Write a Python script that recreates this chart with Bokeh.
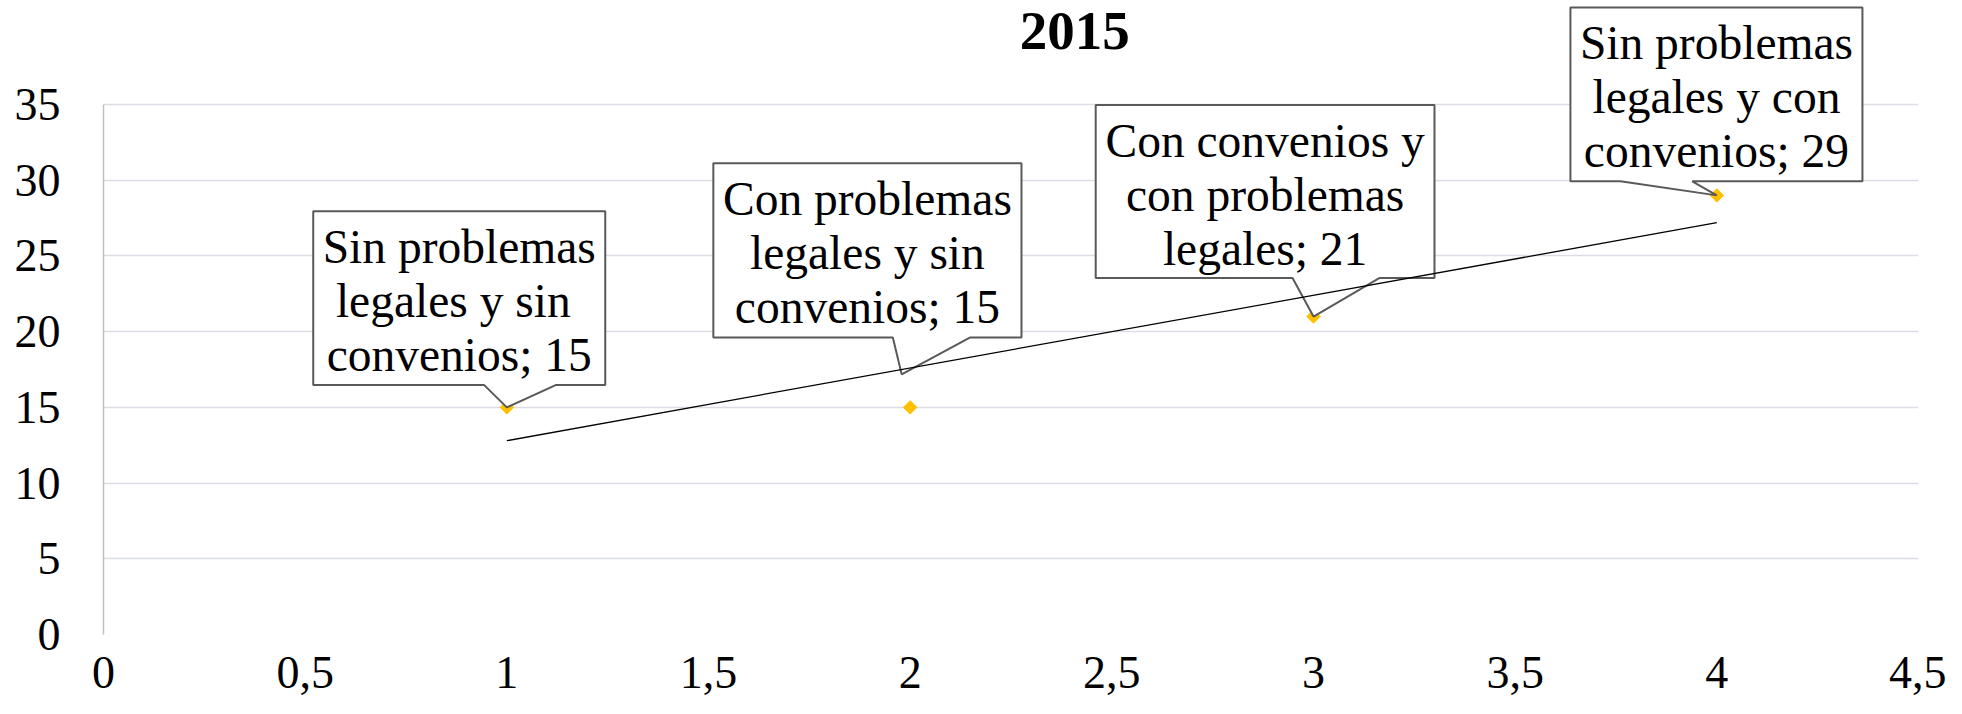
import numpy as np
from bokeh.plotting import figure
from bokeh.models import Range1d, FixedTicker, Label, PolyAnnotation
from bokeh.embed import file_html
from bokeh.resources import INLINE

# ---------------- data ----------------
title_text = "2015"
x_values = [1, 2, 3, 4]
y_values = [15, 15, 21, 29]
point_labels = [
    ["Sin problemas", "legales  y sin", "convenios; 15"],
    ["Con problemas", "legales y sin", "convenios; 15"],
    ["Con convenios y", "con problemas", "legales; 21"],
    ["Sin problemas", "legales y con", "convenios; 29"],
]
x_ticks = [0, 0.5, 1, 1.5, 2, 2.5, 3, 3.5, 4, 4.5]
x_tick_labels = ["0", "0,5", "1", "1,5", "2", "2,5", "3", "3,5", "4", "4,5"]
y_ticks = [0, 5, 10, 15, 20, 25, 30, 35]
y_tick_labels = ["0", "5", "10", "15", "20", "25", "30", "35"]

# ------------- callout layout (positions only, data units) -------------
# box: left, right, top, bottom ; base: pointer base left/right x ; tip offset from point
callouts = [
    dict(box=(0.520, 1.244, 27.96, 16.47), base=(0.944, 1.121), tip=(0.0, 0.0)),
    dict(box=(1.512, 2.276, 31.12, 19.62), base=(1.957, 2.149), tip=(-0.021, 2.18)),
    dict(box=(2.460, 3.300, 34.97, 23.54), base=(2.948, 3.163), tip=(0.0, 0.0)),
    dict(box=(3.637, 4.361, 41.40, 29.93), base=(3.761, 3.939), tip=(0.0, 0.0)),
]

FONT = "Liberation Serif"
LABEL_SIZE = "47.5px"
TICK_SIZE = "46px"

# the frame extends above the 35 line so that the title and top callout fit inside it
p = figure(
    width=1946, height=706,
    x_range=Range1d(0, 4.5), y_range=Range1d(0, 41.87),
    output_backend="svg", toolbar_location=None,
    min_border_left=103, min_border_right=28, min_border_top=0, min_border_bottom=72,
)
p.outline_line_color = None
p.background_fill_color = "white"
p.border_fill_color = "white"

p.xgrid.visible = False
p.ygrid.grid_line_color = "#DADEE4"
p.ygrid.grid_line_width = 1.3

xa = p.xaxis[0]
xa.ticker = FixedTicker(ticks=x_ticks)
xa.major_label_overrides = {t: l for t, l in zip(x_ticks, x_tick_labels)}
xa.axis_line_color = None
xa.major_tick_line_color = None
xa.minor_tick_line_color = None
xa.major_tick_out = 0
xa.major_label_standoff = 22
xa.major_label_text_font = FONT
xa.major_label_text_font_size = TICK_SIZE
xa.major_label_text_color = "black"

ya = p.yaxis[0]
ya.ticker = FixedTicker(ticks=y_ticks)
ya.major_label_overrides = {t: l for t, l in zip(y_ticks, y_tick_labels)}
ya.bounds = (min(y_ticks), max(y_ticks))
ya.axis_line_color = "#BFBFBF"
ya.axis_line_width = 1.5
ya.major_tick_line_color = None
ya.minor_tick_line_color = None
ya.major_tick_out = 0
ya.major_label_standoff = 43
ya.major_label_text_font = FONT
ya.major_label_text_font_size = TICK_SIZE
ya.major_label_text_color = "black"

# points
p.scatter(x_values, y_values, marker="square", size=9.5, angle=np.pi / 4,
          fill_color="#FFC000", line_color="#FFC000")

# linear trend line computed from the data
coef = np.polyfit(x_values, y_values, 1)
tx = [min(x_values), max(x_values)]
ty = list(np.polyval(coef, tx))
p.line(tx, ty, line_color="black", line_width=1.3, level="overlay")

# callouts
for xv, yv, lines, c in zip(x_values, y_values, point_labels, callouts):
    l, r, t, b = c["box"]
    bl, br = c["base"]
    tipx, tipy = xv + c["tip"][0], yv + c["tip"][1]
    xs = [l, r, r, br, tipx, bl, l]
    ys = [t, t, b, b, tipy, b, b]
    p.add_layout(PolyAnnotation(xs=xs, ys=ys, fill_color="white", fill_alpha=1.0,
                                line_color="#595959", line_alpha=1.0, line_width=2))
    cx = (l + r) / 2
    my = (t + b) / 2
    for i, line in enumerate(lines):
        p.add_layout(Label(x=cx, y=my, y_offset=-(3 + (i - 1) * 54), text=line,
                           text_align="center", text_baseline="alphabetic",
                           text_font=FONT, text_font_size=LABEL_SIZE, text_color="black"))

# title
p.add_layout(Label(x=2.408, y=38.8, y_offset=16, text=title_text, text_align="center",
                   text_baseline="alphabetic", text_font=FONT, text_font_size="55px",
                   text_font_style="bold", text_color="black"))

open("out.html", "w").write(file_html(p, INLINE))
